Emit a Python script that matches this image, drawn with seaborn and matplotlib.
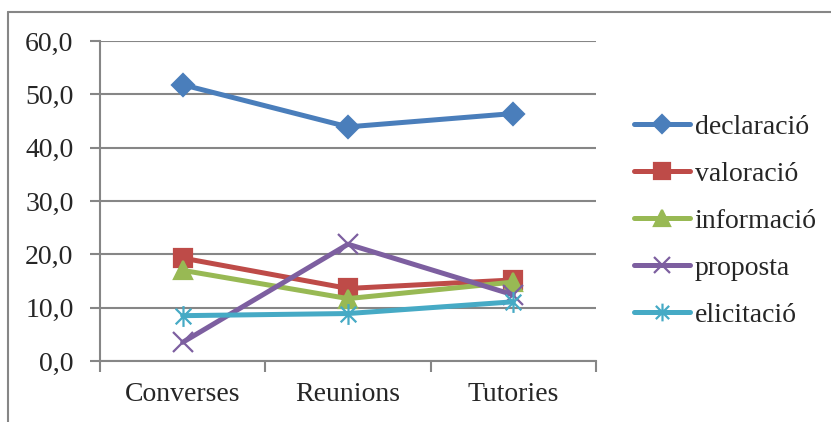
import numpy as np
import pandas as pd
import matplotlib
matplotlib.use("Agg")
import matplotlib.pyplot as plt
from matplotlib.lines import Line2D
from matplotlib.path import Path
from matplotlib.ticker import FixedLocator, FuncFormatter
import seaborn as sns

categories = ["Converses", "Reunions", "Tutories"]
series = ["declaració", "valoració", "informació", "proposta", "elicitació"]
declaracio = [51.8, 43.9, 46.4]
valoracio = [19.3, 13.6, 15.2]
informacio = [17.0, 11.7, 14.8]
proposta = [3.5, 21.9, 12.4]
elicitacio = [8.5, 8.9, 11.1]
y_ticks = [0, 10, 20, 30, 40, 50, 60]

# asterisk: a vertical stroke crossed by an "x"
star = Path(
    [(0, -1), (0, 1), (-0.75, -0.75), (0.75, 0.75), (-0.75, 0.75), (0.75, -0.75)],
    [Path.MOVETO, Path.LINETO, Path.MOVETO, Path.LINETO, Path.MOVETO, Path.LINETO],
)

colors = ["#4A7EBB", "#BE4B48", "#98B954", "#7D5FA0", "#46AAC5"]
markers = ["D", "s", "^", "x", star]
marker_sizes = [11, 13, 13, 14, 15]

values = [declaracio, valoracio, informacio, proposta, elicitacio]
df = pd.DataFrame(
    [(cat, s, v) for s, vals in zip(series, values) for cat, v in zip(categories, vals)],
    columns=["categoria", "serie", "valor"],
)

sns.set_style("white")
plt.rcParams["font.family"] = ["Liberation Serif", "DejaVu Serif"]

W, H = 831, 422
fig = plt.figure(figsize=(W / 100, H / 100), dpi=100)
ax = fig.add_axes([100 / W, 1 - 361 / H, 496 / W, 320 / H])

for s, c, m, ms in zip(series, colors, markers, marker_sizes):
    sub = df[df["serie"] == s]
    sns.lineplot(
        data=sub, x="categoria", y="valor", color=c, marker=m,
        markersize=ms, markeredgecolor=c, markerfacecolor=c, markeredgewidth=1.6,
        linewidth=3.6, sort=False, ax=ax, label=s,
    )

ax.set_xlim(-0.5, 2.5)
ax.set_ylim(0, 60)
ax.set_xlabel("")
ax.set_ylabel("")

grid_c = "#868686"
ax.yaxis.set_major_locator(FixedLocator(y_ticks))
ax.yaxis.set_major_formatter(FuncFormatter(lambda v, p: f"{v:.1f}".replace(".", ",")))
ax.yaxis.grid(True, color=grid_c, linewidth=1.5)
ax.set_axisbelow(True)

ax.set_xticks(range(len(categories)))
ax.set_xticklabels(categories)
ax.xaxis.set_minor_locator(FixedLocator([-0.5, 0.5, 1.5, 2.5]))
ax.tick_params(axis="x", which="major", length=0, pad=15, labelsize=20)
ax.tick_params(axis="x", which="minor", length=8, width=1.5, color=grid_c, direction="out",
               bottom=True)
ax.tick_params(axis="y", which="major", length=7, width=1.5, color=grid_c, direction="out",
               pad=12, labelsize=20, left=True)

for side in ["top", "right"]:
    ax.spines[side].set_visible(False)
for side in ["left", "bottom"]:
    ax.spines[side].set_color(grid_c)
    ax.spines[side].set_linewidth(1.5)

handles, labels = ax.get_legend_handles_labels()
ax.legend(
    handles, labels, loc="center left",
    bbox_to_anchor=(634 / W, 1 - 221 / H), bbox_transform=fig.transFigure,
    frameon=False, fontsize=20, handlelength=2.0, handletextpad=0.18,
    labelspacing=0.78, borderpad=0, borderaxespad=0, markerscale=0.85,
)

# chart area frame
fig.add_artist(Line2D([8 / W, 8 / W], [0, 1 - 12 / H], transform=fig.transFigure,
                      color=grid_c, linewidth=1.5))
fig.add_artist(Line2D([8 / W, 1], [1 - 12 / H, 1 - 12 / H], transform=fig.transFigure,
                      color=grid_c, linewidth=1.5))

fig.savefig("out.png", dpi=100)
